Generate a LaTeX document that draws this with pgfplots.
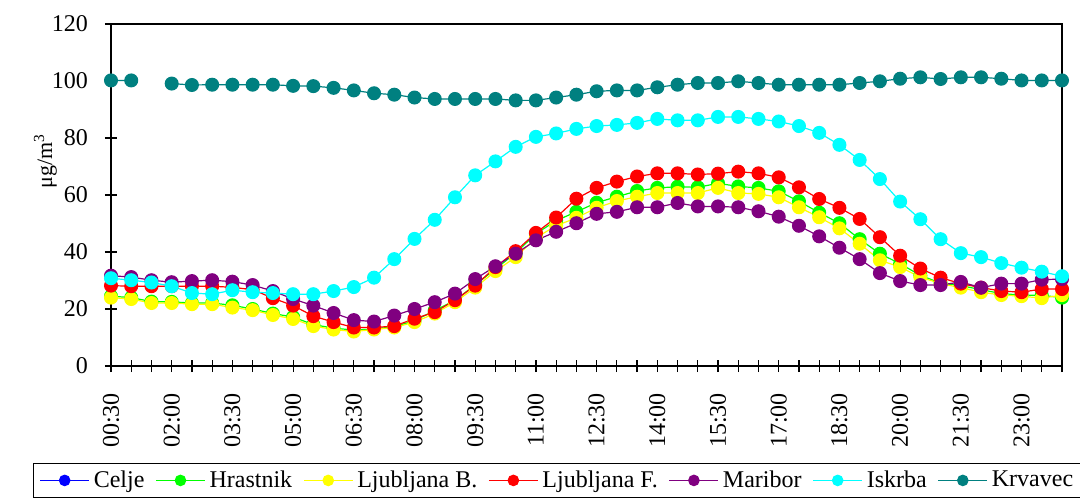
\documentclass[border=0pt]{standalone}
\usepackage{fontspec}
\setmainfont{Liberation Serif}
\usepackage{pgfplots}
\pgfplotsset{compat=1.18}
\definecolor{cBlue}{RGB}{0,0,255}
\definecolor{cGreen}{RGB}{0,255,0}
\definecolor{cYellow}{RGB}{255,255,0}
\definecolor{cRed}{RGB}{255,0,0}
\definecolor{cPurple}{RGB}{128,0,128}
\definecolor{cCyan}{RGB}{0,255,255}
\definecolor{cTeal}{RGB}{0,128,128}
\begin{document}
\begin{tikzpicture}
\path[use as bounding box] (-55.5pt,-66.5pt) rectangle (484.5pt,183pt);
\begin{axis}[
  scale only axis,
  width=475.5pt, height=171pt,
  xmin=0, xmax=47, ymin=0, ymax=120,
  xtick={0,...,47},
  xticklabels={00:30,,,02:00,,,03:30,,,05:00,,,06:30,,,08:00,,,09:30,,,11:00,,,12:30,,,14:00,,,15:30,,,17:00,,,18:30,,,20:00,,,21:30,,,23:00,,},
  ytick={0,20,...,120},
  xtick pos=bottom, ytick pos=left,
  tick align=center,
  major tick length=6pt,
  tick style={black, line width=0.6pt},
  axis line style={line width=0.8pt},
  /pgf/number format/assume math mode=true,
  tick label style={font=\fontsize{12}{14}\selectfont},
  xticklabel style={rotate=90, anchor=east},
  xticklabel shift={7pt},
  yticklabel shift={5pt},
  ylabel={\fontsize{11}{13}\selectfont μg/m\textsuperscript{3}},
  y label style={at={(axis description cs:-0.069,0.6)}, anchor=center},
  unbounded coords=jump,
  every axis plot/.append style={line width=0.6pt, mark=*, mark size=3.2pt},
  legend columns=7,
  legend image code/.code={\draw[mark repeat=2,mark phase=2, mark size=2.6pt] plot coordinates {(0cm,0cm) (0.43cm,0cm) (0.86cm,0cm)};},
  legend style={at={(-0.082,-0.2836)}, anchor=north west, draw=black, line width=0.6pt,
    font=\fontsize{12}{14}\selectfont, inner xsep=3pt, inner ysep=1.5pt,
    /tikz/every even column/.append style={column sep=3.5pt},
    /tikz/every odd column/.append style={column sep=0pt}},
]
\addlegendimage{color=cBlue, mark options={fill=cBlue, draw=cBlue}}
\addlegendentry{Celje}
\addplot[color=cGreen, mark options={fill=cGreen, draw=cGreen}] coordinates {
(0,24.5)(1,24.0)(2,22.6)(3,22.5)(4,22.1)(5,22.1)(6,21.3)(7,20.0)(8,18.4)(9,17.2)(10,14.5)(11,13.3)(12,12.6)(13,13.0)(14,13.8)(15,15.9)(16,19.5)
(17,23.0)(18,28.5)(19,34.0)(20,39.7)(21,46.4)(22,51.0)(23,54.1)(24,57.3)(25,59.4)(26,61.4)(27,62.5)(28,62.9)(29,62.7)(30,64.1)(31,63.0)
(32,62.5)(33,61.3)(34,57.8)(35,53.8)(36,50.1)(37,44.5)(38,39.4)(39,35.9)(40,31.8)(41,29.1)(42,28.2)(43,26.8)(44,25.4)(45,24.9)(46,24.8)(47,24.0)};
\addlegendentry{Hrastnik}
\addplot[color=cYellow, mark options={fill=cYellow, draw=cYellow}] coordinates {
(0,24.0)(1,23.5)(2,22.1)(3,22.1)(4,21.7)(5,21.7)(6,20.5)(7,19.6)(8,17.9)(9,16.5)(10,14.0)(11,12.8)(12,12.1)(13,12.8)(14,13.5)(15,15.4)(16,18.4)
(17,22.4)(18,27.5)(19,33.3)(20,38.2)(21,45.0)(22,49.2)(23,52.0)(24,55.5)(25,57.9)(26,59.4)(27,60.7)(28,60.7)(29,60.7)(30,62.5)(31,60.7)
(32,60.4)(33,59.2)(34,55.7)(35,52.2)(36,48.3)(37,42.9)(38,37.1)(39,34.7)(40,31.2)(41,28.9)(42,27.5)(43,25.9)(44,24.9)(45,24.5)(46,23.8)(47,24.9)};
\addlegendentry{Ljubljana B.}
\addplot[color=cRed, mark options={fill=cRed, draw=cRed}] coordinates {
(0,28.2)(1,28.0)(2,28.0)(3,28.0)(4,28.0)(5,28.0)(6,27.6)(7,26.8)(8,23.8)(9,21.2)(10,17.5)(11,15.4)(12,13.5)(13,13.5)(14,14.0)(15,16.6)(16,18.9)
(17,23.1)(18,28.2)(19,34.7)(20,40.3)(21,46.7)(22,52.1)(23,58.7)(24,62.5)(25,64.7)(26,66.5)(27,67.6)(28,67.6)(29,67.2)(30,67.5)(31,68.2)
(32,67.6)(33,66.2)(34,62.7)(35,58.6)(36,55.5)(37,51.6)(38,45.2)(39,38.7)(40,34.2)(41,31.0)(42,28.9)(43,27.5)(44,26.3)(45,25.9)(46,27.0)(47,27.0)};
\addlegendentry{Ljubljana F.}
\addplot[color=cPurple, mark options={fill=cPurple, draw=cPurple}] coordinates {
(0,31.7)(1,31.2)(2,30.1)(3,29.4)(4,29.8)(5,30.1)(6,29.6)(7,28.4)(8,26.3)(9,23.5)(10,21.2)(11,18.6)(12,16.1)(13,15.6)(14,17.7)(15,20.0)(16,22.4)
(17,25.4)(18,30.5)(19,35.0)(20,39.4)(21,44.1)(22,47.1)(23,50.1)(24,53.4)(25,54.1)(26,55.7)(27,55.7)(28,57.2)(29,56.0)(30,56.0)(31,55.7)
(32,54.3)(33,52.4)(34,49.2)(35,45.5)(36,41.5)(37,37.5)(38,32.6)(39,29.8)(40,28.4)(41,28.4)(42,29.5)(43,27.5)(44,28.9)(45,28.9)(46,30.3)(47,30.5)};
\addlegendentry{Maribor}
\addplot[color=cCyan, mark options={fill=cCyan, draw=cCyan}] coordinates {
(0,30.8)(1,30.1)(2,29.3)(3,28.0)(4,25.6)(5,25.2)(6,26.6)(7,25.9)(8,25.6)(9,25.2)(10,25.2)(11,26.3)(12,27.7)(13,31.0)
(14,37.5)(15,44.6)(16,51.3)(17,59.2)(18,66.9)(19,71.8)(20,76.9)(21,80.4)(22,81.6)(23,83.2)(24,84.2)(25,84.6)(26,85.3)(27,86.7)(28,86.2)(29,86.2)(30,87.4)(31,87.4)
(32,86.7)(33,85.8)(34,84.2)(35,81.8)(36,77.6)(37,72.3)(38,65.6)(39,57.7)(40,51.5)(41,44.5)(42,39.6)(43,38.2)(44,36.1)(45,34.5)(46,33.1)(47,31.5)};
\addlegendentry{Iskrba}
\addplot[color=cTeal, mark options={fill=cTeal, draw=cTeal}] coordinates {
(0,100.2)(1,100.2)(2,nan)(3,99.1)(4,98.6)(5,98.7)(6,98.7)(7,98.7)(8,98.7)(9,98.3)(10,98.2)(11,97.6)(12,96.7)(13,95.7)(14,95.2)(15,94.2)(16,93.7)
(17,93.7)(18,93.7)(19,93.7)(20,93.2)(21,93.2)(22,94.2)(23,95.2)(24,96.4)(25,96.7)(26,96.7)(27,97.8)(28,98.7)(29,99.3)(30,99.3)(31,99.9)
(32,99.3)(33,98.7)(34,98.7)(35,98.7)(36,98.7)(37,99.3)(38,99.9)(39,100.8)(40,101.3)(41,100.7)(42,101.3)(43,101.3)(44,100.8)(45,100.2)(46,100.2)(47,100.2)};
\addlegendentry{Krvavec}
\end{axis}
\end{tikzpicture}
\end{document}
